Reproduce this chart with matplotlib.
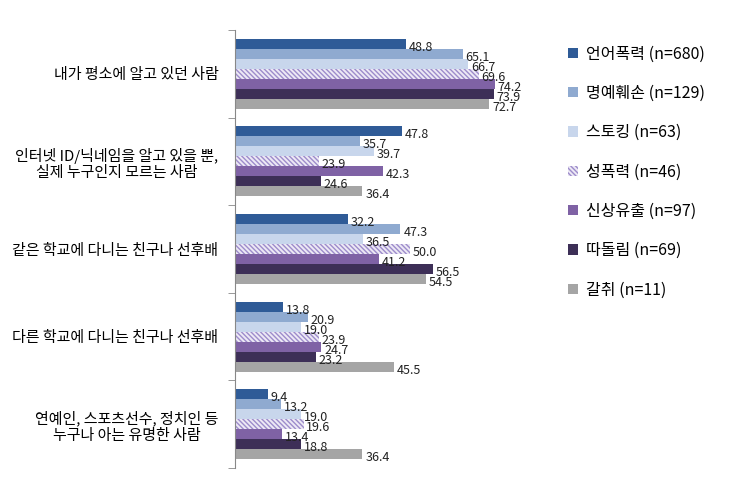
import matplotlib
matplotlib.use('Agg')
import matplotlib.pyplot as plt
from matplotlib.patches import Patch
import numpy as np

plt.rcParams['font.family'] = ['Noto Sans CJK KR', 'DejaVu Sans']
plt.rcParams['hatch.linewidth'] = 1.0

categories = ['내가 평소에 알고 있던 사람',
              '인터넷 ID/닉네임을 알고 있을 뿐,\n실제 누구인지 모르는 사람',
              '같은 학교에 다니는 친구나 선후배',
              '다른 학교에 다니는 친구나 선후배',
              '연예인, 스포츠선수, 정치인 등\n누구나 아는 유명한 사람']

series_names = ['언어폭력 (n=680)', '명예훼손 (n=129)', '스토킹 (n=63)', '성폭력 (n=46)',
                '신상유출 (n=97)', '따돌림 (n=69)', '갈취 (n=11)']

verbal = [48.8, 47.8, 32.2, 13.8, 9.4]
defame = [65.1, 35.7, 47.3, 20.9, 13.2]
stalking = [66.7, 39.7, 36.5, 19.0, 19.0]
sexual = [69.6, 23.9, 50.0, 23.9, 19.6]
leak = [74.2, 42.3, 41.2, 24.7, 13.4]
exclusion = [73.9, 24.6, 56.5, 23.2, 18.8]
extortion = [72.7, 36.4, 54.5, 45.5, 36.4]

series = [verbal, defame, stalking, sexual, leak, exclusion, extortion]
colors = ['#2F5B97', '#8FAAD0', '#C8D6EC', '#EDE9F5', '#7F62A5', '#3D2F57', '#A5A5A5']
hatch_col = '#9D8CCB'
hatch_pat = '\\' * 7

fig = plt.figure(figsize=(7.35, 4.99), dpi=100)
ax = fig.add_axes([235 / 735, 31 / 499, 310 / 735, 438 / 499])

n = len(series)
h = 0.8 / n
y = np.arange(len(categories))

for i, vals in enumerate(series):
    pos = y - 0.4 + h * (i + 0.5)
    if i == 3:
        ax.barh(pos, vals, height=h, color=colors[i], edgecolor=hatch_col,
                hatch=hatch_pat, linewidth=0)
    else:
        ax.barh(pos, vals, height=h, color=colors[i], linewidth=0)
    for p, v in zip(pos, vals):
        ax.text(v + 0.8, p + 0.04, f'{v:.1f}', va='center', ha='left',
                fontsize=9, color='#222222')

ax.set_xlim(0, 88.6)
ax.set_ylim(len(categories) - 0.5, -0.5)
ax.set_yticks(y)
ax.set_yticklabels(categories, fontsize=10.8, multialignment='center')
ax.tick_params(axis='y', which='major', length=0, pad=12)
ax.set_yticks(np.arange(len(categories) + 1) - 0.5, minor=True)
ax.tick_params(axis='y', which='minor', length=5, color='#888888')
ax.set_xticks([])
for s in ['top', 'right', 'bottom']:
    ax.spines[s].set_visible(False)
ax.spines['left'].set_color('#888888')

handles = []
for i, name in enumerate(series_names):
    if i == 3:
        handles.append(Patch(facecolor=colors[i], edgecolor=hatch_col, hatch=hatch_pat,
                             linewidth=0, label=name))
    else:
        handles.append(Patch(facecolor=colors[i], linewidth=0, label=name))

fig.legend(handles=handles, loc='upper left', bbox_to_anchor=(554 / 735, 1 - 31 / 499),
           frameon=False, fontsize=11.5, handlelength=0.6, handleheight=0.6,
           handletextpad=0.5, labelspacing=1.4)

fig.savefig('out.png', dpi=100)
